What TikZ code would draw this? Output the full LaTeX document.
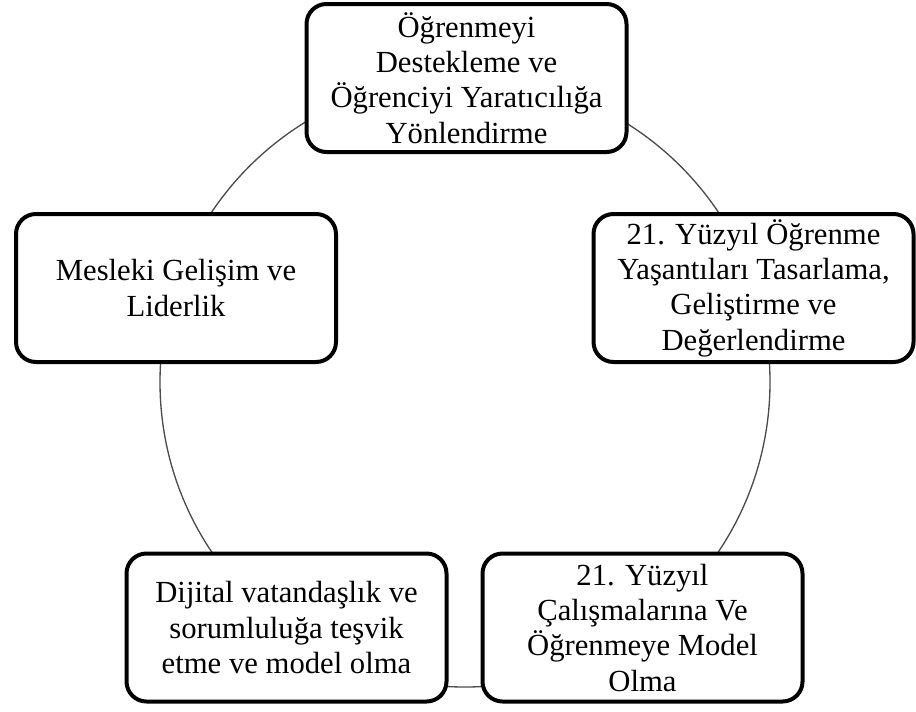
\documentclass[tikz,border=0pt]{standalone}
\usepackage{fontspec}
\setmainfont{Liberation Serif}

\tikzset{
  rolebox/.style={draw=black, line width=3pt, rounded corners=15pt, fill=white,
    minimum width=240pt, minimum height=111pt, inner sep=0pt, align=center,
    font=\fontsize{23}{26.5}\selectfont},
}

\begin{document}
\begin{tikzpicture}[x=0.75pt,y=0.75pt]
\useasboundingbox (0,-711) rectangle (916,0);
\coordinate (hub) at (465,-382);
\draw[black!70, line width=1pt] (hub) circle [radius=305];
\node[rolebox] (destek) at (466.5,-78) {Öğrenmeyi\\Destekleme ve\\Öğrenciyi Yaratıcılığa\\Yönlendirme};
\node[rolebox] (yasanti) at (753.5,-288) {21. Yüzyıl Öğrenme\\Yaşantıları Tasarlama,\\Geliştirme ve\\Değerlendirme};
\node[rolebox] (calisma) at (642.5,-627.5) {21. Yüzyıl\\Çalışmalarına Ve\\Öğrenmeye Model\\Olma};
\node[rolebox] (dijital) at (286.5,-627.5) {Dijital vatandaşlık ve\\sorumluluğa teşvik\\etme ve model olma};
\node[rolebox] (mesleki) at (176,-288) {Mesleki Gelişim ve\\Liderlik};
\end{tikzpicture}
\end{document}
